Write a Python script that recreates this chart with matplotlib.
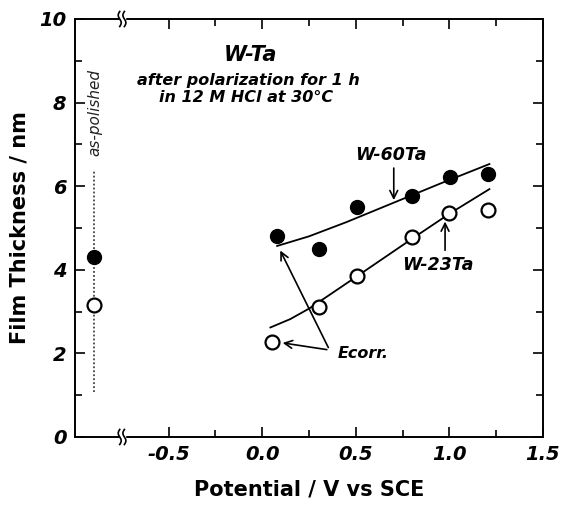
import numpy as np
import matplotlib.pyplot as plt
from matplotlib.transforms import blended_transform_factory

plt.rcParams['font.family'] = ['DejaVu Sans']

# as-polished values (drawn at the left, beyond the axis break)
pol_x = -0.9
pol_60 = 4.31
pol_23 = 3.16
pol_span = [1.08, 6.36]

# W-60Ta (filled)
x60 = [0.08, 0.305, 0.505, 0.803, 1.005, 1.204]
y60 = [4.81, 4.50, 5.51, 5.77, 6.23, 6.28]
fit60_x = [0.08, 0.25, 0.45, 0.70, 0.95, 1.214]
fit60_y = [4.57, 4.80, 5.14, 5.60, 6.06, 6.53]

# W-23Ta (open)
x23 = [0.053, 0.305, 0.505, 0.80, 1.0, 1.205]
y23 = [2.27, 3.10, 3.84, 4.78, 5.37, 5.42]
fit23_x = [0.044, 0.15, 0.25, 0.35, 0.505, 0.80, 1.0, 1.214]
fit23_y = [2.62, 2.82, 3.07, 3.37, 3.84, 4.74, 5.34, 5.93]

xmajor = [-0.5, 0.0, 0.5, 1.0, 1.5]
xminor = [-0.25, 0.25, 0.75, 1.25]
xlabels = ['-0.5', '0.0', '0.5', '1.0', '1.5']
ymajor = [0, 2, 4, 6, 8, 10]
yminor = [1, 3, 5, 7, 9]

fig = plt.figure(figsize=(5.65, 5.09), dpi=100)
ax = fig.add_axes([0.1327, 0.1415, 0.8283, 0.8212])

ax.plot([pol_x, pol_x], pol_span, linestyle=(0, (1, 1.2)), color='#444444', lw=1.3)
ax.plot(pol_x, pol_60, 'o', ms=10, color='black')
ax.plot(pol_x, pol_23, 'o', ms=10, mfc='white', mec='black', mew=1.6)
ax.text(pol_x + 0.005, 7.77, 'as-polished', rotation=90, ha='center', va='center',
        fontsize=11, fontstyle='italic', color='#222222')

ax.plot(fit60_x, fit60_y, color='black', lw=1.3)
ax.plot(fit23_x, fit23_y, color='black', lw=1.3)
ax.plot(x60, y60, 'o', ms=10, color='black')
ax.plot(x23, y23, 'o', ms=10, mfc='white', mec='black', mew=1.6)

tfont = dict(fontweight='bold', fontstyle='italic')
ax.text(-0.06, 9.15, 'W-Ta', ha='center', va='center', fontsize=15, **tfont)
ax.text(-0.075, 8.54, 'after polarization for 1 h', ha='center', va='center', fontsize=11.5, **tfont)
ax.text(-0.085, 8.12, 'in 12 M HCl at 30°C', ha='center', va='center', fontsize=11.5, **tfont)

arr = dict(arrowstyle='->', color='black', lw=1.2, mutation_scale=14)
ax.text(0.69, 6.75, 'W-60Ta', ha='center', va='center', fontsize=12.5, **tfont)
ax.annotate('', xy=(0.703, 5.6), xytext=(0.703, 6.5), arrowprops=arr)
ax.text(0.94, 4.12, 'W-23Ta', ha='center', va='center', fontsize=12.5, **tfont)
ax.annotate('', xy=(0.977, 5.22), xytext=(0.977, 4.4), arrowprops=arr)
ax.text(0.54, 2.0, 'Ecorr.', ha='center', va='center', fontsize=11.5, **tfont)
ax.annotate('', xy=(0.09, 4.52), xytext=(0.36, 2.08), arrowprops=arr)
ax.annotate('', xy=(0.095, 2.26), xytext=(0.36, 2.08), arrowprops=arr)

ax.set_xlim(-1.0, 1.5)
ax.set_ylim(0, 10)
ax.set_xticks(xmajor)
ax.set_xticklabels(xlabels)
ax.set_xticks(xminor, minor=True)
ax.set_yticks(ymajor)
ax.set_yticks(yminor, minor=True)
ax.tick_params(which='both', direction='in', top=True, right=True, width=1.2)
ax.tick_params(which='major', length=7, labelsize=14, pad=6)
ax.tick_params(which='minor', length=5)
for lab in ax.get_xticklabels() + ax.get_yticklabels():
    lab.set_fontweight('bold')
    lab.set_fontstyle('italic')
for s in ax.spines.values():
    s.set_linewidth(1.4)

ax.set_xlabel('Potential / V vs SCE', fontsize=15, fontweight='bold', labelpad=11)
ax.set_ylabel('Film Thickness / nm', fontsize=15, fontweight='bold', labelpad=7)

# axis break marks at -0.75 on the top and bottom spines
tr = blended_transform_factory(ax.transData, ax.transAxes)
t = np.linspace(-1, 1, 30)
for yc in [0.0, 1.0]:
    ax.fill_between([-0.762, -0.735], yc - 0.012, yc + 0.012, color='white',
                    transform=tr, clip_on=False, zorder=5)
    for dx in [-0.012, 0.013]:
        ax.plot(-0.749 + dx - 0.008 * np.sin(np.pi * t), yc + 0.018 * t, color='black',
                lw=1.2, transform=tr, clip_on=False, zorder=6)

fig.savefig('out.png', dpi=100)
